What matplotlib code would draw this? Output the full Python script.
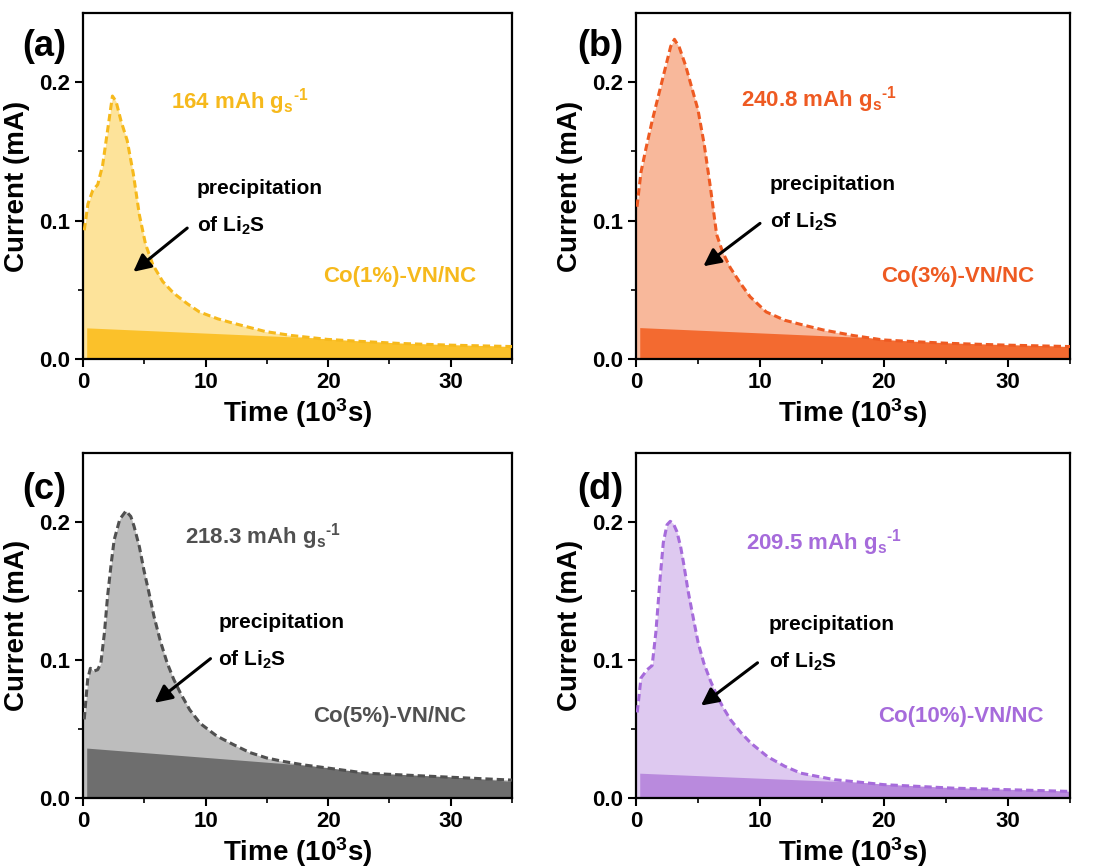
import numpy as np
import matplotlib
matplotlib.use('Agg')
from matplotlib import pyplot as plt
from matplotlib import ticker

plt.rcParams['font.family'] = ['Liberation Sans', 'DejaVu Sans']
plt.rcParams['font.weight'] = 'bold'
plt.rcParams['mathtext.fontset'] = 'custom'
plt.rcParams['mathtext.rm'] = 'Liberation Sans:bold'
plt.rcParams['mathtext.bf'] = 'Liberation Sans:bold'
plt.rcParams['mathtext.it'] = 'Liberation Sans:bold'

# time in 10^3 s, current in mA
time_a = [0, 0.1, 0.4, 0.8, 1.2, 1.6, 2.0, 2.4, 2.7, 3.1, 3.6, 4.1, 4.6, 5.1, 5.7, 6.5, 7.4,
          8.5, 9.5, 11, 12.2, 13.5, 14.9, 17, 19.9, 22.5, 25.7, 30, 35]
current_a = [0.13, 0.093, 0.112, 0.122, 0.126, 0.14, 0.165, 0.19, 0.186, 0.172, 0.158, 0.134,
             0.104, 0.083, 0.068, 0.056, 0.0475, 0.040, 0.034, 0.029, 0.026, 0.023, 0.0198,
             0.017, 0.0142, 0.0128, 0.0113, 0.010, 0.009]

time_b = [0, 0.08, 0.4, 0.8, 1.3, 1.8, 2.3, 2.8, 3.1, 3.5, 4.0, 4.5, 5.0, 5.5, 6.0, 6.5, 7.0,
          7.6, 8.4, 9.2, 10.5, 12, 13.5, 15.1, 17.5, 19.9, 22.5, 25.3, 30, 35]
current_b = [0.15, 0.11, 0.135, 0.152, 0.172, 0.19, 0.208, 0.226, 0.231, 0.225, 0.212, 0.196,
             0.18, 0.155, 0.124, 0.09, 0.077, 0.066, 0.055, 0.045, 0.034, 0.028, 0.0245,
             0.021, 0.017, 0.0138, 0.0125, 0.0113, 0.010, 0.009]

time_c = [0, 0.1, 0.38, 0.6, 0.9, 1.2, 1.46, 1.75, 2.0, 2.3, 2.54, 3.0, 3.5, 3.9, 4.16, 4.6,
          4.97, 5.4, 5.78, 6.3, 6.86, 7.4, 7.95, 8.7, 9.57, 10.9, 12.3, 13.6, 15, 16.3, 18,
          20, 23.1, 28.5, 35]
current_c = [0.062, 0.057, 0.086, 0.094, 0.092, 0.093, 0.098, 0.12, 0.146, 0.170, 0.187,
             0.202, 0.208, 0.204, 0.197, 0.182, 0.165, 0.148, 0.132, 0.114, 0.098, 0.086,
             0.076, 0.064, 0.054, 0.045, 0.0386, 0.033, 0.029, 0.0266, 0.024, 0.0217, 0.018,
             0.0157, 0.013]

time_d = [0, 0.1, 0.4, 0.9, 1.3, 1.6, 1.95, 2.2, 2.5, 2.76, 3.0, 3.3, 3.6, 3.84, 4.2, 4.65,
          5.0, 5.46, 6.0, 6.54, 7.0, 7.6, 8.4, 9.24, 10.6, 12, 13.3, 16, 20, 25.5, 35]
current_d = [0.098, 0.062, 0.087, 0.093, 0.096, 0.12, 0.16, 0.185, 0.198, 0.2005, 0.199,
             0.193, 0.182, 0.170, 0.15, 0.129, 0.113, 0.098, 0.085, 0.074, 0.066, 0.057,
             0.048, 0.040, 0.030, 0.023, 0.018, 0.0133, 0.0097, 0.0072, 0.0048]

# straight background lines (start, end)
base_time = [0.3, 35]
base_a = [0.0225, 0.009]
base_b = [0.0227, 0.009]
base_c = [0.0362, 0.012]
base_d = [0.018, 0.005]

samples = ['Co(1%)-VN/NC', 'Co(3%)-VN/NC', 'Co(5%)-VN/NC', 'Co(10%)-VN/NC']
capacities = ['164', '240.8', '218.3', '209.5']
panel_labels = ['(a)', '(b)', '(c)', '(d)']

line_colors = ['#F6B91C', '#EE5A22', '#505050', '#A66BDB']
light_colors = ['#FDE39A', '#F8B89B', '#BDBDBD', '#DEC9F0']
dark_colors = ['#FBC12A', '#F36A30', '#6E6E6E', '#B98ADD']

fig = plt.figure(figsize=(11.04, 8.68), dpi=100)
ax_pos = [[0.0752, 0.5864, 0.3886, 0.3986], [0.5761, 0.5864, 0.3931, 0.3986],
          [0.0752, 0.0806, 0.3886, 0.3975], [0.5761, 0.0806, 0.3931, 0.3975]]
label_pos = [(0.020, 0.946), (0.523, 0.946), (0.020, 0.436), (0.523, 0.436)]

times = [time_a, time_b, time_c, time_d]
currents = [current_a, current_b, current_c, current_d]
bases = [base_a, base_b, base_c, base_d]

# text / arrow spots in data coords
cap_xy = [(7.2, 0.186), (8.5, 0.1875), (8.35, 0.1896), (8.84, 0.185)]
prec_xy = [(9.3, 0.123), (10.8, 0.126), (11.05, 0.127), (10.7, 0.126)]
li2s_xy = [(9.3, 0.096), (10.8, 0.0994), (11.05, 0.100), (10.7, 0.099)]
arrow_tail = [(8.5, 0.0946), (10.0, 0.098), (10.4, 0.101), (9.8, 0.098)]
arrow_tip = [(4.1, 0.063), (5.43, 0.067), (5.84, 0.069), (5.24, 0.067)]
name_xy = [(19.6, 0.0596), (19.8, 0.0596), (18.8, 0.059), (19.5, 0.059)]

for i in range(4):
    ax = fig.add_axes(ax_pos[i])
    t = times[i]
    c = currents[i]
    light = ax.fill_between(t, 0, c, color=light_colors[i], lw=0, zorder=1)
    dark = ax.fill_between(base_time, 0, bases[i], color=dark_colors[i], lw=0, zorder=2)
    dark.set_clip_path(light.get_paths()[0], ax.transData)
    # the first point is only the fill's edge at t=0, the dashed trace starts after it
    ax.plot(t[1:], c[1:], color=line_colors[i], lw=2.2, ls=(0, (2.4, 1.3)), zorder=3)

    ax.set_xlim(0, 35)
    ax.set_ylim(0, 0.25)
    ax.xaxis.set_major_locator(ticker.MultipleLocator(10))
    ax.xaxis.set_minor_locator(ticker.MultipleLocator(5))
    ax.yaxis.set_major_locator(ticker.FixedLocator([0.0, 0.1, 0.2]))
    ax.yaxis.set_minor_locator(ticker.FixedLocator([0.05, 0.15]))
    ax.yaxis.set_major_formatter(ticker.FormatStrFormatter('%.1f'))
    ax.tick_params(which='major', direction='out', length=6, width=1.5, labelsize=16)
    ax.tick_params(which='minor', direction='out', length=3.5, width=1.2)
    for s in ax.spines.values():
        s.set_linewidth(1.6)

    ax.set_xlabel(r'Time (10$^{3}$s)', fontsize=20, fontweight='bold', labelpad=2)
    ax.set_ylabel('Current (mA)', fontsize=20, fontweight='bold', labelpad=6)

    ax.text(cap_xy[i][0], cap_xy[i][1], capacities[i] + r' mAh g$_{s}$$^{\text{-1}}$',
            color=line_colors[i], fontsize=16, fontweight='bold', va='center', ha='left')
    ax.text(prec_xy[i][0], prec_xy[i][1], 'precipitation', fontsize=15,
            fontweight='bold', va='center', ha='left')
    ax.text(li2s_xy[i][0], li2s_xy[i][1], r'of Li$_{2}$S', fontsize=15,
            fontweight='bold', va='center', ha='left')
    ax.annotate('', xy=arrow_tip[i], xytext=arrow_tail[i],
                arrowprops=dict(arrowstyle='-|>', color='black', lw=2.2,
                                mutation_scale=26, shrinkA=0, shrinkB=0))
    ax.text(name_xy[i][0], name_xy[i][1], samples[i], color=line_colors[i],
            fontsize=16, fontweight='bold', va='center', ha='left')

    fig.text(label_pos[i][0], label_pos[i][1], panel_labels[i], fontsize=26,
             fontweight='bold', va='center', ha='left')

fig.savefig('out.png', dpi=100)
